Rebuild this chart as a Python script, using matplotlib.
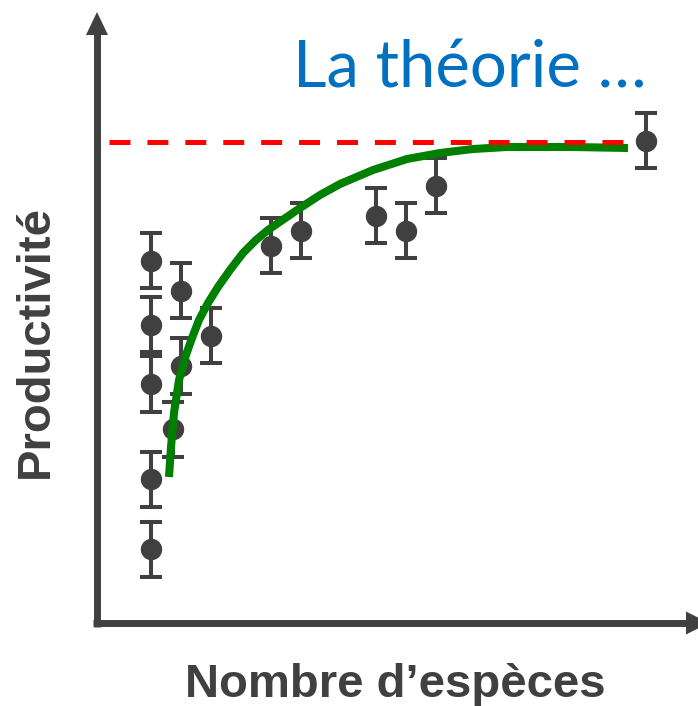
import matplotlib
matplotlib.use("Agg")
import matplotlib.pyplot as plt
from matplotlib.patches import Polygon

plt.rcParams['lines.scale_dashes'] = False

# ---- data (arbitrary units: species count / productivity) ----
species = [5.4, 5.4, 5.4, 5.4, 5.4, 8.4, 8.4, 7.6, 11.4, 17.4, 20.4, 27.9, 30.9, 33.9, 54.9]
productivity = [36.2, 29.8, 23.9, 14.4, 7.4, 33.2, 25.7, 19.4, 28.7, 37.7, 39.2, 40.7, 39.2, 43.7, 48.2]
errors = [2.75] * 15

curve_x = [7.2, 7.4, 7.7, 8.2, 8.9, 9.5, 10.2, 11.1, 12.1, 13.3, 14.6, 15.9, 17.1,
           18.7, 20.3, 22.3, 24.3, 27.6, 31.0, 34.3, 37.6, 41.0, 47.6, 53.1]
curve_y = [14.6, 17.6, 21.0, 24.3, 26.8, 28.5, 30.3, 32.0, 33.6, 35.3, 37.0, 38.3, 39.3,
           40.4, 41.5, 42.8, 43.9, 45.3, 46.4, 47.0, 47.4, 47.6, 47.6, 47.5]

plateau_y = 48.1
plateau_x = [1.2, 52.8]

title = "La théorie …"
xlabel = "Nombre d’espèces"
ylabel = "Productivité"

# ---- figure ----
W, H = 698, 706
fig = plt.figure(figsize=(W / 100, H / 100), dpi=100)
ax = fig.add_axes([0, 0, 1, 1])
ax.set_xlim(-9.7, 60.1)
ax.set_ylim(-8.3, 62.3)
ax.axis('off')

gray = '#404040'

# axes with arrows
ax.plot([0, 0], [-0.4, 58.9], color=gray, lw=5.0, solid_capstyle='butt', zorder=2)
ax.plot([-0.4, 58.9], [0, 0], color=gray, lw=5.0, solid_capstyle='butt', zorder=2)
ax.add_patch(Polygon([[-1.1, 58.8], [1.1, 58.8], [0, 61.1]], closed=True,
                     facecolor=gray, edgecolor='none', zorder=2))
ax.add_patch(Polygon([[58.9, -1.15], [58.9, 1.15], [61.2, 0]], closed=True,
                     facecolor=gray, edgecolor='none', zorder=2, clip_on=False))

# data points with error bars
ax.errorbar(species, productivity, yerr=errors, fmt='o', color=gray,
            ms=14.4, mec=gray, mfc=gray, elinewidth=2.9, capsize=7.9,
            capthick=2.9, zorder=3)

# theoretical curve
ax.plot(curve_x, curve_y, color='#008000', lw=5.8, solid_capstyle='butt',
        solid_joinstyle='round', zorder=4)

# plateau
ax.plot(plateau_x, [plateau_y, plateau_y], color='#ff0000', lw=3.6,
        dashes=(15.1, 12.2), dash_capstyle='butt', zorder=5)

# texts
fig.text(293 / W, 1 - 87 / H, title, color='#0070C0', fontsize=47,
         family='Lato', ha='left', va='baseline')
fig.text(395 / W, 1 - 697 / H, xlabel, color=gray, fontsize=34,
         family='Liberation Sans', weight='bold', ha='center', va='baseline')
fig.text(36 / W, 1 - 342 / H, ylabel, color=gray, fontsize=34,
         family='Liberation Sans', weight='bold', ha='center', va='center',
         rotation=90)

fig.savefig('out.png', dpi=100)
